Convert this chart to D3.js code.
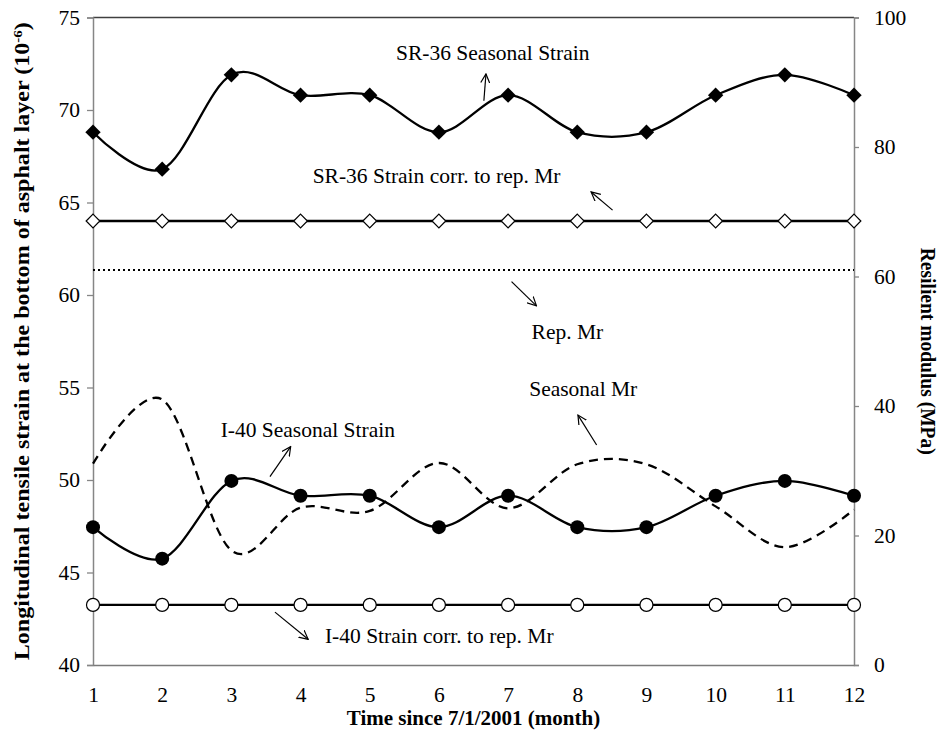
<!DOCTYPE html>
<html>
<head>
<meta charset="utf-8">
<script src="https://cdnjs.cloudflare.com/ajax/libs/d3/7.8.5/d3.min.js"></script>
<style>
  body { margin: 0; background: #fff; }
  text { font-family: "Liberation Serif", "Times New Roman", serif; }
</style>
</head>
<body>
<div id="chart"></div>
<script>
var months = [1, 2, 3, 4, 5, 6, 7, 8, 9, 10, 11, 12];
var sr36Seasonal = [68.8, 66.8, 71.9, 70.8, 70.8, 68.8, 70.8, 68.8, 68.8, 70.8, 71.9, 70.8];
var sr36Rep = [64, 64, 64, 64, 64, 64, 64, 64, 64, 64, 64, 64];
var i40Seasonal = [47.45, 45.75, 49.95, 49.15, 49.15, 47.45, 49.15, 47.45, 47.45, 49.15, 49.95, 49.15];
var i40Rep = [43.25, 43.25, 43.25, 43.25, 43.25, 43.25, 43.25, 43.25, 43.25, 43.25, 43.25, 43.25];
var seasonalMr = [31.1, 41, 17.7, 24.3, 23.8, 31.2, 24.2, 31, 31, 24.5, 18.2, 24];
var repMr = 61;
var leftTicks = [40, 45, 50, 55, 60, 65, 70, 75];
var rightTicks = [0, 20, 40, 60, 80, 100];

var margin = {top: 17.5, right: 85, bottom: 71, left: 93},
    width = 939 - margin.left - margin.right,
    height = 736 - margin.top - margin.bottom;

var svg = d3.select("#chart").append("svg")
    .attr("width", 939)
    .attr("height", 736)
    .append("g")
    .attr("transform", "translate(" + margin.left + "," + margin.top + ")");

var x = d3.scaleLinear().domain([1, 12]).range([0, width]);
var y = d3.scaleLinear().domain([40, 75]).range([height, 0]);
var y2 = d3.scaleLinear().domain([0, 100]).range([height, 0]);

// arrow head
svg.append("defs").append("marker")
    .attr("id", "arr")
    .attr("viewBox", "0 0 10 10")
    .attr("refX", 9).attr("refY", 5)
    .attr("markerWidth", 10).attr("markerHeight", 10)
    .attr("markerUnits", "userSpaceOnUse")
    .attr("orient", "auto")
    .append("path")
    .attr("d", "M0,0.5 L9,5 L0,9.5")
    .attr("fill", "none")
    .attr("stroke", "#000")
    .attr("stroke-width", 1.2);

// frame
svg.append("line").attr("x1", 0).attr("x2", width).attr("y1", 0).attr("y2", 0)
    .attr("stroke", "#404040").attr("stroke-width", 1.3);

// axes
var yAxisL = svg.append("g")
    .call(d3.axisLeft(y).tickValues(leftTicks).tickSize(6).tickPadding(7));
var yAxisR = svg.append("g")
    .attr("transform", "translate(" + width + ",0)")
    .call(d3.axisRight(y2).tickValues(rightTicks).tickSize(5).tickPadding(15));
var xAxis = svg.append("g")
    .attr("transform", "translate(0," + height + ")")
    .call(d3.axisBottom(x).tickValues(months).tickSize(0).tickPadding(22));

[yAxisL, yAxisR, xAxis].forEach(function(a) {
  a.selectAll("path").attr("stroke", "#868686").attr("stroke-width", 1.5);
  a.selectAll("line").attr("stroke", "#868686").attr("stroke-width", 1.3);
  a.selectAll("text")
    .style("font-family", "Liberation Serif")
    .style("font-size", "21.5px")
    .attr("fill", "#000");
});
xAxis.select("path").attr("stroke", "#7a7a7a");

function pts(vals) {
  return vals.map(function(v, i) { return [months[i], v]; });
}

var smooth = d3.line()
    .x(function(d) { return x(d[0]); })
    .y(function(d) { return y(d[1]); })
    .curve(d3.curveCatmullRom.alpha(0));

var smoothR = d3.line()
    .x(function(d) { return x(d[0]); })
    .y(function(d) { return y2(d[1]); })
    .curve(d3.curveCatmullRom.alpha(0));

// rep Mr dotted
svg.append("line")
    .attr("x1", x(1)).attr("x2", x(12))
    .attr("y1", y2(repMr)).attr("y2", y2(repMr))
    .attr("stroke", "#000").attr("stroke-width", 2)
    .attr("stroke-dasharray", "2,3");

// seasonal Mr dashed
svg.append("path")
    .attr("d", smoothR(pts(seasonalMr)))
    .attr("fill", "none").attr("stroke", "#000")
    .attr("stroke-width", 2.3).attr("stroke-dasharray", "9,6");

// rep strain lines
[sr36Rep, i40Rep].forEach(function(s) {
  svg.append("path")
      .attr("d", smooth(pts(s)))
      .attr("fill", "none").attr("stroke", "#000").attr("stroke-width", 2.3);
});

// seasonal strain lines
[sr36Seasonal, i40Seasonal].forEach(function(s) {
  svg.append("path")
      .attr("d", smooth(pts(s)))
      .attr("fill", "none").attr("stroke", "#000").attr("stroke-width", 2.3);
});

var diamond = d3.symbol().type(d3.symbolDiamond2);

svg.selectAll(".sr36s")
    .data(pts(sr36Seasonal))
  .enter().append("path")
    .attr("d", diamond.size(150)())
    .attr("transform", function(d) { return "translate(" + x(d[0]) + "," + y(d[1]) + ")"; })
    .attr("fill", "#000");

svg.selectAll(".sr36r")
    .data(pts(sr36Rep))
  .enter().append("path")
    .attr("d", diamond.size(120)())
    .attr("transform", function(d) { return "translate(" + x(d[0]) + "," + y(d[1]) + ")"; })
    .attr("fill", "#fff").attr("stroke", "#000").attr("stroke-width", 1.2);

svg.selectAll(".i40s")
    .data(pts(i40Seasonal))
  .enter().append("circle")
    .attr("cx", function(d) { return x(d[0]); })
    .attr("cy", function(d) { return y(d[1]); })
    .attr("r", 7)
    .attr("fill", "#000");

svg.selectAll(".i40r")
    .data(pts(i40Rep))
  .enter().append("circle")
    .attr("cx", function(d) { return x(d[0]); })
    .attr("cy", function(d) { return y(d[1]); })
    .attr("r", 6.5)
    .attr("fill", "#fff").attr("stroke", "#000").attr("stroke-width", 1.2);

// annotations (month, left-axis value)
var notes = [
  {t: "SR-36 Seasonal Strain", x: 5.38, y: 72.70, a: [6.65, 70.50, 6.68, 71.95]},
  {t: "SR-36 Strain corr. to rep. Mr", x: 4.175, y: 66.04, a: [8.51, 64.59, 8.20, 65.57]},
  {t: "Rep. Mr", x: 7.34, y: 57.62, a: [7.05, 60.72, 7.41, 59.41]},
  {t: "Seasonal Mr", x: 7.305, y: 54.54, a: [8.28, 51.89, 8.01, 53.51]},
  {t: "I-40 Seasonal Strain", x: 2.845, y: 52.34, a: [3.558, 50.18, 3.857, 51.80]},
  {t: "I-40 Strain corr. to rep. Mr", x: 4.353, y: 41.19, a: [3.63, 42.86, 4.11, 41.39]}
];

notes.forEach(function(n) {
  svg.append("text")
      .attr("x", x(n.x)).attr("y", y(n.y))
      .style("font-size", "21.5px")
      .text(n.t);
  svg.append("line")
      .attr("x1", x(n.a[0])).attr("y1", y(n.a[1]))
      .attr("x2", x(n.a[2])).attr("y2", y(n.a[3]))
      .attr("stroke", "#000").attr("stroke-width", 1.2)
      .attr("marker-end", "url(#arr)");
});

// axis titles
svg.append("text")
    .attr("x", width / 2)
    .attr("y", height + 60)
    .style("text-anchor", "middle")
    .style("font-weight", "bold")
    .style("font-size", "21px")
    .text("Time since 7/1/2001 (month)");

var lt = svg.append("text")
    .attr("transform", "translate(" + (-64) + "," + (height / 2) + ") rotate(-90)")
    .attr("textLength", 638)
    .attr("lengthAdjust", "spacingAndGlyphs")
    .style("text-anchor", "middle")
    .style("font-weight", "bold")
    .style("font-size", "21px");
lt.append("tspan").text("Longitudinal tensile strain at the bottom of asphalt layer (10");
lt.append("tspan").attr("dy", -7).style("font-size", "13px").text("-6");
lt.append("tspan").attr("dy", 7).text(")");

svg.append("text")
    .attr("transform", "translate(" + (width + 67) + "," + (height / 2 + 10) + ") rotate(90)")
    .attr("textLength", 207)
    .attr("lengthAdjust", "spacingAndGlyphs")
    .style("text-anchor", "middle")
    .style("font-weight", "bold")
    .style("font-size", "20px")
    .text("Resilient modulus (MPa)");
</script>
</body>
</html>
